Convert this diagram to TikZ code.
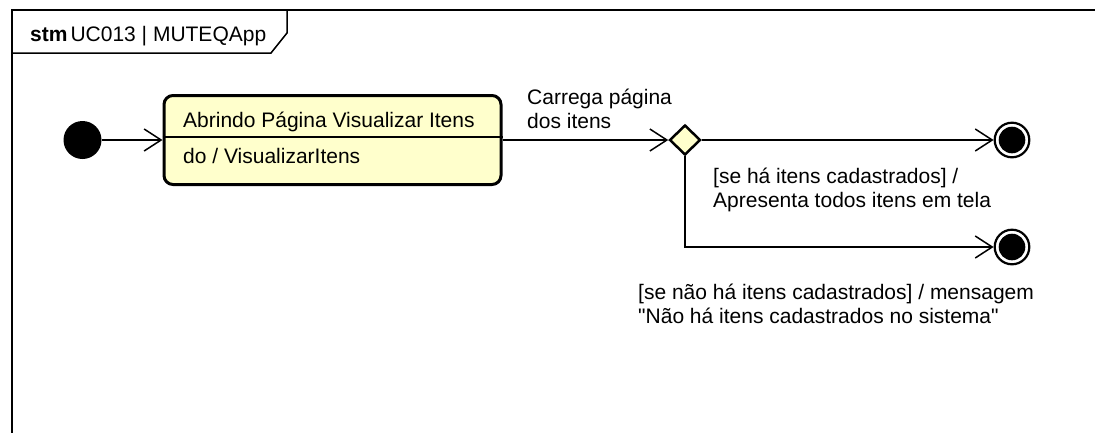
\documentclass[tikz,border=0pt]{standalone}
\usepackage{fontspec}
\setmainfont{Liberation Sans}
\newfontfamily\plainq{Liberation Sans}
\newcommand{\sq}{{\plainq\symbol{"22}}}
\usetikzlibrary{arrows.meta,shapes.geometric}
\definecolor{stfill}{RGB}{255,255,204}
\tikzset{
  lbl/.style={anchor=base west, inner sep=0pt, font=\fontsize{21}{25}\selectfont},
  conn/.style={line width=1.5pt, -{Straight Barb[length=17pt,width=22pt,line width=1.5pt]}},
  initst/.style={circle, fill=black, minimum size=38, inner sep=0pt},
  finalst/.style={circle, draw=black, line width=2.2pt, fill=white, minimum size=34.6, inner sep=0pt},
  statebox/.style={rectangle, rounded corners=9pt, draw=black, line width=3pt, fill=stfill, minimum width=337, minimum height=89, inner sep=0pt},
  choice/.style={diamond, draw=black, line width=2.5pt, fill=stfill, minimum width=31, minimum height=30, inner sep=0pt}
}
\begin{document}
\begin{tikzpicture}[x=1pt,y=-1pt]
\useasboundingbox (0,0) rectangle (1095,432);
\clip (0,0) rectangle (1095,432);
% frame
\draw[line width=1.5pt] (12,440) -- (12,10) -- (1100,10);
\draw[line width=1.5pt] (12,53) -- (271,53) -- (287,33) -- (287,10);
\node[lbl] (title) at (30,41) {\textbf{stm}\hspace{3pt}UC013 | MUTEQApp};
% nodes
\node[initst] (init) at (82.5,140) {};
\node[statebox] (st) at (332.5,140) {};
\draw[line width=1.5pt] (st.west |- 0,137) -- (st.east |- 0,137);
\node[lbl] (stname) at (183,127) {Abrindo Página Visualizar Itens};
\node[lbl] (stdo) at (183,163) {do / VisualizarItens};
\node[choice] (dec) at (685,140) {};
\node[finalst] (f1) at (1012,140) {};
\fill (f1.center) circle[radius=13.3pt];
\node[finalst] (f2) at (1012,247) {};
\fill (f2.center) circle[radius=13.3pt];
% connectors
\draw[conn] (init) -- (st.west);
\draw[conn] (st.east) -- (dec.west);
\draw[conn] (dec.east) -- (f1.west);
\draw[conn] (dec.south) |- (f2.west);
% labels
\node[lbl] (l1a) at (527,104) {Carrega página};
\node[lbl] (l1b) at (527,128) {dos itens};
\node[lbl] (l2a) at (713,183) {[se há itens cadastrados] /};
\node[lbl] (l2b) at (713,207) {Apresenta todos itens em tela};
\node[lbl] (l3a) at (638,299) {[se não há itens cadastrados] / mensagem};
\node[lbl] (l3b) at (638,323) {\sq Não há itens cadastrados no sistema\sq};
\end{tikzpicture}
\end{document}
